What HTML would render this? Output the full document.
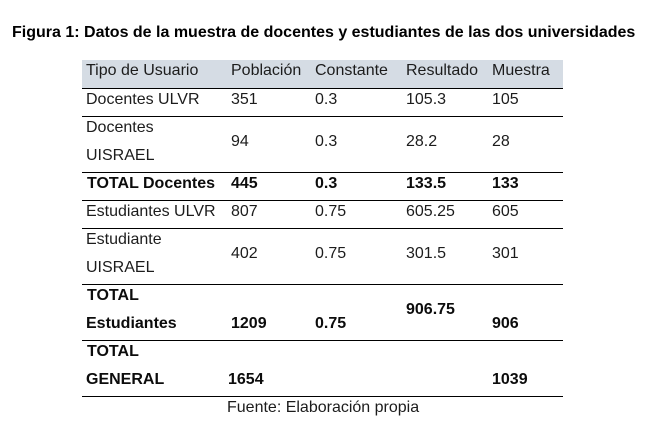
<!DOCTYPE html>
<html lang="es">
<head>
<meta charset="utf-8">
<title>Figura 1</title>
<style>
html,body{margin:0;padding:0;background:#fff}
#page{position:relative;width:647px;height:430px;overflow:hidden;background:#fff;font-family:"Liberation Sans",Arial,sans-serif;font-size:16px;color:#1c1c1c}
#page div{position:absolute;white-space:nowrap;line-height:22px}
.b{font-weight:bold;color:#0c0c0c}
#page .l{height:1px;left:82px;width:481px;background:#000}
</style>
</head>
<body>
<div id="page">
<div style="left:12px;top:22px;font-size:16px;font-weight:bold;color:#000">Figura 1: Datos de la muestra de docentes y estudiantes de las dos universidades</div>
<div style="left:82px;top:60px;width:481px;height:28px;background:#d5dce4"></div>

<div class="l" style="top:88px"></div>
<div class="l" style="top:116px"></div>
<div class="l" style="top:172px"></div>
<div class="l" style="top:200px"></div>
<div class="l" style="top:228px"></div>
<div class="l" style="top:284px"></div>
<div class="l" style="top:340px"></div>
<div class="l" style="top:396px"></div>

<div style="left:86px;top:60px">Tipo de Usuario</div>
<div style="left:231px;top:60px">Población</div>
<div style="left:315px;top:60px">Constante</div>
<div style="left:406px;top:60px">Resultado</div>
<div style="left:492px;top:60px">Muestra</div>

<div style="left:86px;top:89px">Docentes ULVR</div>
<div style="left:231px;top:89px">351</div>
<div style="left:315px;top:89px">0.3</div>
<div style="left:406px;top:89px">105.3</div>
<div style="left:492px;top:89px">105</div>

<div style="left:86px;top:117px">Docentes</div>
<div style="left:86px;top:145px">UISRAEL</div>
<div style="left:231px;top:131px">94</div>
<div style="left:315px;top:131px">0.3</div>
<div style="left:406px;top:131px">28.2</div>
<div style="left:492px;top:131px">28</div>

<div class="b" style="left:87px;top:173px">TOTAL Docentes</div>
<div class="b" style="left:231px;top:173px">445</div>
<div class="b" style="left:315px;top:173px">0.3</div>
<div class="b" style="left:406px;top:173px">133.5</div>
<div class="b" style="left:492px;top:173px">133</div>

<div style="left:86px;top:201px">Estudiantes ULVR</div>
<div style="left:231px;top:201px">807</div>
<div style="left:315px;top:201px">0.75</div>
<div style="left:406px;top:201px">605.25</div>
<div style="left:492px;top:201px">605</div>

<div style="left:86px;top:229px">Estudiante</div>
<div style="left:86px;top:257px">UISRAEL</div>
<div style="left:231px;top:243px">402</div>
<div style="left:315px;top:243px">0.75</div>
<div style="left:406px;top:243px">301.5</div>
<div style="left:492px;top:243px">301</div>

<div class="b" style="left:87px;top:285px">TOTAL</div>
<div class="b" style="left:86px;top:313px">Estudiantes</div>
<div class="b" style="left:231px;top:313px">1209</div>
<div class="b" style="left:315px;top:313px">0.75</div>
<div class="b" style="left:406px;top:299px">906.75</div>
<div class="b" style="left:492px;top:313px">906</div>

<div class="b" style="left:87px;top:341px">TOTAL</div>
<div class="b" style="left:86px;top:369px">GENERAL</div>
<div class="b" style="left:228px;top:369px">1654</div>
<div class="b" style="left:492px;top:369px">1039</div>

<div style="left:227px;top:397px">Fuente: Elaboración propia</div>
</div>
</body>
</html>
